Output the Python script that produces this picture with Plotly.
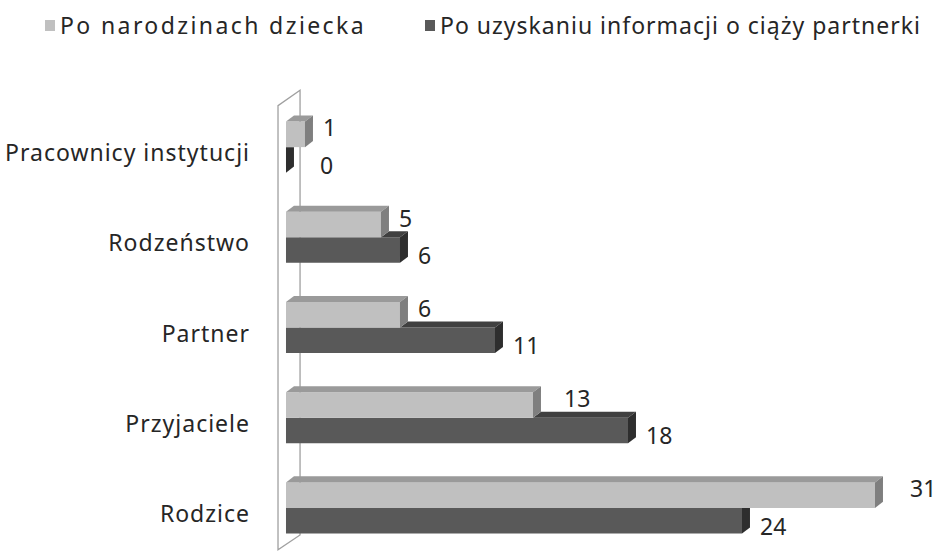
import plotly.graph_objects as go

# ---- data (bottom to top) ----
categories = ["Rodzice", "Przyjaciele", "Partner", "Rodzeństwo", "Pracownicy instytucji"]
after_birth = [31, 13, 6, 5, 1]          # Po narodzinach dziecka
after_pregnancy = [24, 18, 11, 6, 0]     # Po uzyskaniu informacji o ciąży partnerki
series_names = ["Po narodzinach dziecka", "Po uzyskaniu informacji o ciąży partnerki"]

# ---- style ----
LIGHT = dict(front="#C0C0C0", top="#9A9A9A", side="#7F7F7F")
DARK = dict(front="#595959", top="#404040", side="#2E2E2E")
FONT = "Noto Sans"
TXT = "#262626"
W = 0.283             # bar thickness (category units)
DX, DY = 0.42, 0.067  # 3-D depth offsets in axis units
light_label_nudge = [17, 13, 0, 0, 0]
dark_label_nudge = [0, 0, 0, 0, 16]

FIG_W, FIG_H = 939, 554
ML, MR, MT, MB = 260, 7, 84, 1
PW, PH = FIG_W - ML - MR, FIG_H - MT - MB


def px(xp):   # pixel x -> paper
    return (xp - ML) / PW


def py(yp):   # pixel y -> paper
    return 1 - (yp - MT) / PH


ypos = list(range(len(categories)))
y_light = [y + W / 2 for y in ypos]
y_dark = [y - W / 2 for y in ypos]

fig = go.Figure()

# front faces
fig.add_trace(go.Bar(y=y_dark, x=after_pregnancy, orientation="h", width=W,
                     marker=dict(color=DARK["front"], line=dict(width=0)),
                     name=series_names[1], showlegend=False, hoverinfo="skip"))
fig.add_trace(go.Bar(y=y_light, x=after_birth, orientation="h", width=W,
                     marker=dict(color=LIGHT["front"], line=dict(width=0)),
                     name=series_names[0], showlegend=False, hoverinfo="skip"))


def poly(xs, ys, color):
    fig.add_trace(go.Scatter(x=xs + [xs[0]], y=ys + [ys[0]], fill="toself", fillcolor=color,
                             mode="lines", line=dict(width=0, color=color),
                             showlegend=False, hoverinfo="skip"))


# depth faces (top + right side) computed from values
for i in ypos:
    d, l = after_pregnancy[i], after_birth[i]
    yc = y_dark[i]
    yb, yt = yc - W / 2, yc + W / 2
    x0 = max(l, 0)
    if d > l:
        poly([x0, d, d + DX, x0 + DX], [yt, yt, yt + DY, yt + DY], DARK["top"])
        poly([d, d, d + DX, d + DX], [yb, yt, yt + DY, yb + DY], DARK["side"])
    else:
        poly([d, d, d + DX, d + DX], [yb, yt, yt, yb + DY], DARK["side"])
    yc = y_light[i]
    yb, yt = yc - W / 2, yc + W / 2
    poly([0, l, l + DX, DX], [yt, yt, yt + DY, yt + DY], LIGHT["top"])
    poly([l, l, l + DX, l + DX], [yb, yt, yt + DY, yb + DY], LIGHT["side"])

# value labels
for i in ypos:
    fig.add_annotation(x=after_birth[i], y=y_light[i], text=str(after_birth[i]),
                       xanchor="left", yanchor="middle", showarrow=False,
                       xshift=16 + light_label_nudge[i], yshift=7,
                       font=dict(family=FONT, size=23, color=TXT))
    fig.add_annotation(x=after_pregnancy[i], y=y_dark[i], text=str(after_pregnancy[i]),
                       xanchor="left", yanchor="middle", showarrow=False,
                       xshift=16 + dark_label_nudge[i], yshift=-5,
                       font=dict(family=FONT, size=23, color=TXT))

# back wall outline
fig.add_shape(type="path", xref="x", yref="y",
              path="M -0.42 -0.465 L -0.42 4.46 L 0.74 4.63 L 0.74 -0.3 Z",
              line=dict(color="#A0A0A0", width=1.3), layer="below")

# legend (swatches + text)
for sx, tx, color, name, ls in [(45, 58, LIGHT["front"], series_names[0], 2.4),
                                (425, 438, DARK["front"], series_names[1], 1.0)]:
    fig.add_shape(type="rect", xref="paper", yref="paper",
                  x0=px(sx), x1=px(sx + 10), y0=py(31), y1=py(20),
                  fillcolor=color, line=dict(width=0))
    fig.add_annotation(x=px(tx), y=py(25), xref="paper", yref="paper", showarrow=False,
                       xanchor="left", yanchor="middle",
                       text=f"<span style='letter-spacing:{ls}px'>{name}</span>",
                       font=dict(family=FONT, size=23, color=TXT))

fig.update_layout(
    width=FIG_W, height=FIG_H,
    margin=dict(l=ML, r=MR, t=MT, b=MB),
    paper_bgcolor="white", plot_bgcolor="white",
    showlegend=False, barmode="overlay",
    xaxis=dict(range=[-1.368, 34], visible=False, fixedrange=True),
    yaxis=dict(range=[-0.5, 4.7], tickmode="array", tickvals=ypos,
               ticktext=[f"<span style='letter-spacing:1px'>{c}</span>" for c in categories],
               showgrid=False, zeroline=False, showline=False, ticks="",
               ticklabelshift=6, ticklabelstandoff=9, automargin=False,
               tickfont=dict(family=FONT, size=23, color=TXT), fixedrange=True),
)

fig.write_html("out.html", config={"displayModeBar": False, "staticPlot": True},
               post_script="document.body.style.margin='0px';")
